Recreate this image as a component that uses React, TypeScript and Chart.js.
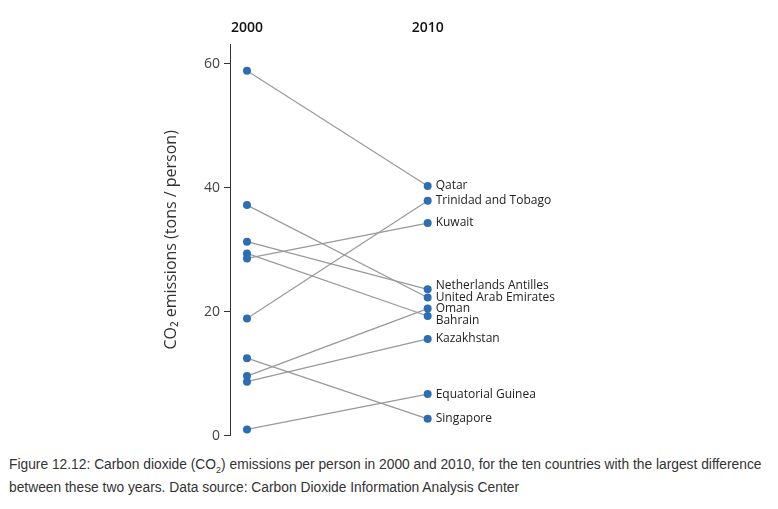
import React, { useEffect, useRef } from 'react';
import Chart from 'chart.js/auto';

const countries = ['Qatar', 'Trinidad and Tobago', 'Kuwait', 'Netherlands Antilles', 'United Arab Emirates', 'Oman', 'Bahrain', 'Kazakhstan', 'Equatorial Guinea', 'Singapore'];
const years = ['2000', '2010'];
const values2000 = [58.9, 18.9, 28.6, 31.3, 37.2, 9.6, 29.4, 8.7, 1.0, 12.5];
const values2010 = [40.3, 37.9, 34.3, 23.6, 22.3, 20.5, 19.3, 15.6, 6.7, 2.7];
const yTicks = [0, 20, 40, 60];

const labelPlugin = {
  id: 'countryLabels',
  afterDatasetsDraw(chart: any) {
    const ctx = chart.ctx;
    const items = chart.data.datasets.map((ds: any, i: number) => {
      const pt = chart.getDatasetMeta(i).data[1];
      return { text: ds.label, x: pt.x, y: pt.y };
    }).sort((a: any, b: any) => a.y - b.y);
    // simple repel so the labels do not overlap
    const gap = 11.5;
    for (let k = 0; k < 20; k++) {
      for (let i = 1; i < items.length; i++) {
        const d = items[i].y - items[i - 1].y;
        if (d < gap) {
          const s = (gap - d) / 2;
          items[i].y += s;
          items[i - 1].y -= s;
        }
      }
    }
    ctx.save();
    ctx.font = '12px "Open Sans"';
    ctx.fillStyle = '#222';
    ctx.textBaseline = 'middle';
    items.forEach((it: any) => ctx.fillText(it.text, it.x + 8, it.y));
    ctx.restore();
  },
};

const App: React.FC = () => {
  const ref = useRef<HTMLCanvasElement>(null);

  useEffect(() => {
    if (!ref.current) return;
    const chart = new Chart(ref.current, {
      type: 'line',
      data: {
        datasets: countries.map((c, i) => ({
          label: c,
          data: [{ x: 0, y: values2000[i] }, { x: 1, y: values2010[i] }],
          borderColor: '#999999',
          borderWidth: 1.2,
          pointRadius: 4,
          pointBackgroundColor: '#2c6db3',
          pointBorderWidth: 0,
        })),
      },
      options: {
        animation: false,
        responsive: false,
        layout: { padding: { left: 150, right: 252, top: 2, bottom: 10 } },
        plugins: { legend: { display: false }, tooltip: { enabled: false } },
        scales: {
          x: {
            type: 'linear',
            position: 'top',
            min: -0.094,
            max: 1.5,
            grid: { display: false },
            border: { display: false },
            afterBuildTicks: (s: any) => { s.ticks = [{ value: 0 }, { value: 1 }]; },
            afterFit: (s: any) => { s.height = 34; },
            ticks: {
              callback: (v: any) => years[v],
              color: '#111',
              padding: 0,
              font: { family: 'Open Sans', size: 14, weight: 600 },
            },
          },
          y: {
            min: 0,
            max: 63.2,
            afterBuildTicks: (s: any) => { s.ticks = yTicks.map(v => ({ value: v })); },
            afterFit: (s: any) => { s.width = 72; },
            grid: { drawOnChartArea: false, tickLength: 6, color: '#333' },
            border: { color: '#333', width: 1 },
            ticks: { color: '#444', padding: 4, font: { family: 'Open Sans', size: 14 } },
            title: {
              display: true,
              text: 'CO₂ emissions (tons / person)',
              color: '#333',
              font: { family: 'Open Sans', size: 16 },
            },
          },
        },
      },
      plugins: [labelPlugin],
    });
    return () => chart.destroy();
  }, []);

  return (
    <div>
      <canvas ref={ref} width={762} height={440} style={{ display: 'block' }} />
      <div style={{ fontFamily: '"Liberation Sans", Arial, sans-serif', fontSize: 13.8, color: '#333', lineHeight: '23px', marginTop: 5, paddingLeft: 1 }}>
        Figure 12.12: Carbon dioxide (CO<sub style={{ fontSize: 9, lineHeight: 0 }}>2</sub>) emissions per person in 2000 and 2010, for the ten countries with the largest difference between these two years. Data source: Carbon Dioxide Information Analysis Center
      </div>
    </div>
  );
};

export default App;
